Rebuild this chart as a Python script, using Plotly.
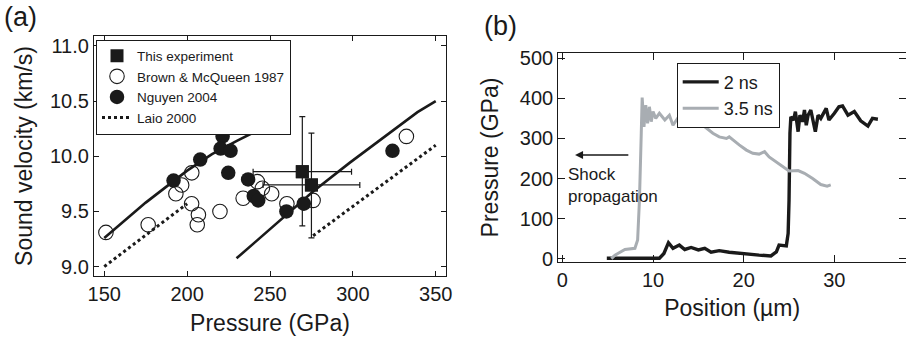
import plotly.graph_objects as go

# ---------------- Panel (a) data ----------------
brown_p = [151, 176.5, 193.2, 196.7, 202.8, 202.7, 206.8, 206.1, 219.8, 233.8, 242.4, 245.4, 251.0, 260.2, 276.0, 332.3]
brown_v = [9.31, 9.38, 9.66, 9.74, 9.85, 9.57, 9.47, 9.38, 9.50, 9.62, 9.77, 9.71, 9.66, 9.57, 9.60, 10.18]

nguyen_p = [191.8, 207.9, 221.4, 220.2, 226.2, 224.8, 236.8, 240.2, 242.9, 259.9, 270.4, 323.9]
nguyen_v = [9.78, 9.97, 10.18, 10.07, 10.05, 9.85, 9.79, 9.64, 9.60, 9.50, 9.57, 10.05]

exp_p = [269.5, 275.0]
exp_v = [9.86, 9.74]
exp_perr = [29.7, 29.2]
exp_vplus = [0.50, 0.47]
exp_vminus = [0.49, 0.48]

fit1_p = [150, 175, 200, 215, 230, 250]
fit1_v = [9.26, 9.58, 9.87, 10.02, 10.14, 10.29]
fit2_p = [229.8, 276, 298, 320, 339, 350]
fit2_v = [9.075, 9.68, 9.94, 10.19, 10.40, 10.50]

laio1_p = [150, 200]
laio1_v = [9.00, 9.57]
laio2_p = [276, 350]
laio2_v = [9.28, 10.10]

# ---------------- Panel (b) data ----------------
ns2_x = [4.9, 10.7, 11.2, 11.7, 12.2, 12.9, 13.5, 14.2, 15.0, 15.7, 16.4, 17.3, 18.4, 19.5, 20.6,
         21.7, 23.0, 23.6, 23.9, 24.7, 24.9, 25.0, 25.1, 25.2, 25.5, 25.7, 26.0, 26.2, 26.5, 26.7,
         26.9, 27.1, 27.4, 27.9, 28.2, 28.5, 29.1, 29.4, 30.0, 30.5, 30.9, 31.5, 32.2, 32.9, 33.7,
         34.2, 34.8]
ns2_y = [1, 1, 13, 40, 26, 34, 23, 28, 22, 26, 16, 20, 16, 13, 12,
         9, 7, 17, 34, 32, 63, 146, 313, 354, 346, 367, 317, 358, 342, 371,
         333, 358, 371, 317, 358, 350, 375, 346, 363, 379, 381, 358, 367, 344, 331,
         350, 348]

ns35_x = [5.4, 5.8, 6.9, 8.0, 8.3, 8.5, 8.7, 8.8, 9.0, 9.2, 9.4, 9.6, 9.8, 10.0, 10.3, 10.7,
          11.3, 11.8, 12.2, 12.7, 13.1, 13.5, 14.0, 14.8, 15.5, 16.1, 16.6, 17.3, 18.1, 18.4,
          18.8, 19.5, 20.3, 21.0, 21.7, 22.3, 22.8, 23.6, 24.3, 25.0, 26.0, 26.7, 27.6, 28.5,
          29.2, 29.6]
ns35_y = [0, 9, 23, 26, 47, 146, 313, 402, 329, 383, 338, 379, 342, 367, 350, 363,
          346, 358, 333, 350, 342, 350, 331, 342, 333, 321, 313, 304, 300, 304,
          296, 284, 271, 263, 261, 267, 254, 242, 230, 219, 220, 213, 200, 185,
          181, 184]

a_xticks = [150, 200, 250, 300, 350]
a_yticks = [9.0, 9.5, 10.0, 10.5, 11.0]
b_xticks = [0, 10, 20, 30]
b_yticks = [0, 100, 200, 300, 400, 500]

FONT = "Liberation Sans, Arial, sans-serif"
INK = "#1a1a1a"
GRAY = "#a8adb2"

W, H = 906, 347
ML, MB = 40, 40
PW, PH = W - ML, H - MB


def dx(px):
    return (px - ML) / PW


def dy(py):
    return 1 - py / PH


fig = go.Figure()

# Panel (a) traces
fig.add_trace(go.Scatter(x=fit1_p, y=fit1_v, mode="lines", line=dict(color=INK, width=2.6),
                         showlegend=False, xaxis="x", yaxis="y", hoverinfo="skip"))
fig.add_trace(go.Scatter(x=fit2_p, y=fit2_v, mode="lines", line=dict(color=INK, width=2.6),
                         showlegend=False, xaxis="x", yaxis="y", hoverinfo="skip"))
fig.add_trace(go.Scatter(x=exp_p, y=exp_v, mode="markers",
                         marker=dict(symbol="square", size=13, color=INK),
                         error_x=dict(type="data", array=exp_perr, color=INK, thickness=1.2, width=3),
                         error_y=dict(type="data", array=exp_vplus, arrayminus=exp_vminus,
                                      color=INK, thickness=1.2, width=3),
                         name="This experiment", legend="legend", xaxis="x", yaxis="y"))
fig.add_trace(go.Scatter(x=brown_p, y=brown_v, mode="markers",
                         marker=dict(symbol="circle", size=14.5, color="rgba(255,255,255,0)",
                                     line=dict(color=INK, width=1.1)),
                         name="Brown & McQueen 1987", legend="legend", xaxis="x", yaxis="y"))
fig.add_trace(go.Scatter(x=nguyen_p, y=nguyen_v, mode="markers",
                         marker=dict(symbol="circle", size=14.5, color=INK),
                         name="Nguyen 2004", legend="legend", xaxis="x", yaxis="y"))
fig.add_trace(go.Scatter(x=laio1_p, y=laio1_v, mode="lines", line=dict(color=INK, width=3, dash="dot"),
                         name="Laio 2000", legend="legend", xaxis="x", yaxis="y"))
fig.add_trace(go.Scatter(x=laio2_p, y=laio2_v, mode="lines", line=dict(color=INK, width=3, dash="dot"),
                         showlegend=False, xaxis="x", yaxis="y"))
fig.add_trace(go.Scatter(x=exp_p, y=exp_v, mode="markers",
                         marker=dict(symbol="square", size=13, color=INK),
                         showlegend=False, xaxis="x", yaxis="y"))

# Panel (b) traces
fig.add_trace(go.Scatter(x=ns2_x, y=ns2_y, mode="lines", line=dict(color=INK, width=3.4),
                         name="2 ns", legend="legend2", xaxis="x2", yaxis="y2"))
fig.add_trace(go.Scatter(x=ns35_x, y=ns35_y, mode="lines", line=dict(color=GRAY, width=3),
                         name="3.5 ns", legend="legend2", xaxis="x2", yaxis="y2"))

axis_common = dict(showline=True, linecolor=INK, linewidth=1.2, mirror="ticks", ticks="inside",
                   tickcolor=INK, showgrid=False, zeroline=False, automargin=False,
                   tickfont=dict(family=FONT, size=20, color=INK),
                   title_font=dict(family=FONT, size=23, color=INK))

fig.update_layout(
    width=W, height=H,
    margin=dict(l=ML, r=0, t=0, b=MB),
    paper_bgcolor="white", plot_bgcolor="white",
    font=dict(family=FONT, color=INK),
    xaxis=dict(domain=[dx(94), dx(446)], range=[143.8, 356.2], tickvals=a_xticks,
               ticklen=5, title=dict(text="Pressure (GPa)", standoff=10), anchor="y", **axis_common),
    yaxis=dict(domain=[dy(276), dy(36)], range=[8.915, 11.09], tickvals=a_yticks,
               ticktext=[f"{v:.1f}" for v in a_yticks],
               ticklen=5, title=dict(text="Sound velocity (km/s)", standoff=10), anchor="x", **axis_common),
    xaxis2=dict(domain=[dx(558.3), 1.0], range=[-0.45, 37.9], tickvals=b_xticks,
                ticklen=7, title=dict(text="Position (µm)", standoff=10), anchor="y2", **axis_common),
    yaxis2=dict(domain=[dy(261.7), dy(53.3)], range=[-7.5, 512.5], tickvals=b_yticks,
                ticklen=7, title=dict(text="Pressure (GPa)", standoff=14), anchor="x2", **axis_common),
    legend=dict(x=dx(96), y=dy(39.5), xanchor="left", yanchor="top",
                bgcolor="white", bordercolor=INK, borderwidth=1,
                font=dict(family=FONT, size=13.5, color=INK), tracegroupgap=0),
    legend2=dict(x=dx(676.7), y=dy(62.7), xanchor="left", yanchor="top",
                 bgcolor="white", bordercolor=INK, borderwidth=1, itemwidth=36,
                 font=dict(family=FONT, size=18, color=INK), tracegroupgap=0),
    annotations=[
        dict(text="(a)", x=dx(2), y=dy(0), xref="paper", yref="paper", xanchor="left", yanchor="top",
             showarrow=False, font=dict(family=FONT, size=27, color=INK)),
        dict(text="(b)", x=dx(482), y=dy(9), xref="paper", yref="paper", xanchor="left", yanchor="top",
             showarrow=False, font=dict(family=FONT, size=27, color=INK)),
        dict(text="", x=1.4, y=258.6, ax=7.44, ay=258.6, xref="x2", yref="y2", axref="x2", ayref="y2",
             showarrow=True, arrowhead=2, arrowsize=1, arrowwidth=1.6, arrowcolor=INK),
        dict(text="Shock<br>propagation", x=dx(566), y=dy(163), xref="paper", yref="paper",
             xanchor="left", yanchor="top", align="left", showarrow=False,
             font=dict(family=FONT, size=17, color=INK)),
    ],
)

fig.write_html("out.html", config={"displayModeBar": False},
               post_script="document.body.style.margin='0';document.body.style.overflow='hidden';")
